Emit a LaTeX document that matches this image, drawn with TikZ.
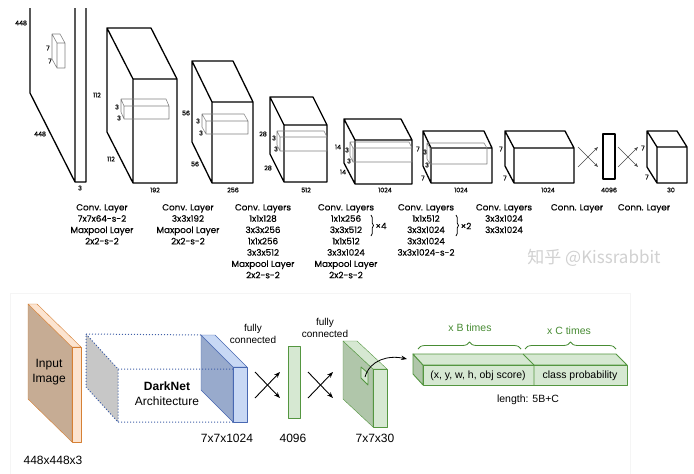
\documentclass[tikz,border=0pt]{standalone}
\usepackage{fontspec}
\setmainfont{Poppins}
\newfontfamily\capfont{Poppins}[FakeBold=0.35]
\newfontfamily\arialfont{Liberation Sans}
\newfontfamily\cjkfont{Noto Sans CJK SC}
\usepackage{tikz}
\usetikzlibrary{arrows.meta,decorations.pathreplacing}

\definecolor{inEdge}{RGB}{214,128,52}
\definecolor{inSide}{RGB}{198,172,148}
\definecolor{inLight}{RGB}{252,228,208}
\definecolor{dnEdge}{RGB}{72,104,178}
\definecolor{dnSide}{RGB}{152,170,204}
\definecolor{dnLight}{RGB}{200,216,244}
\definecolor{dotBlue}{RGB}{64,96,168}
\definecolor{fcEdge}{RGB}{84,150,64}
\definecolor{fcSide}{RGB}{176,198,170}
\definecolor{fcLight}{RGB}{214,232,210}
\definecolor{fcText}{RGB}{72,140,52}

% front face x1 y1 x2 y2, depth dx dy
\newcommand{\cuboid}[7][]{%
  \draw[#1] (#2,#3) rectangle (#4,#5)
    (#2,#3) -- (#2+#6,#3+#7) -- (#4+#6,#3+#7) -- (#4,#3)
    (#2+#6,#3+#7) -- (#2+#6,#5+#7) -- (#2,#5);}
% filled slab: x1 y1 x2 y2 dx dy side light edge
\newcommand{\slab}[9]{%
  \filldraw[draw=#9,fill=#7] (#1,#2) -- (#1+#5,#2+#6) -- (#1+#5,#4+#6) -- (#1,#4) -- cycle;
  \filldraw[draw=#9,fill=#8] (#1,#2) -- (#1+#5,#2+#6) -- (#3+#5,#2+#6) -- (#3,#2) -- cycle;
  \filldraw[draw=#9,fill=#8] (#1,#2) rectangle (#3,#4);}

\begin{document}
\begin{tikzpicture}
[x=1pt, y=-1pt, line join=round,
  blk/.style={line width=1.3pt},
  krn/.style={gray, line width=0.55pt},
  dim/.style={font=\capfont\fontsize{6.3}{7}\selectfont, inner sep=0},
  colcap/.style={font=\capfont\fontsize{8.8}{11.3}\selectfont, align=center, anchor=north, inner sep=0},
  arr/.style={black!70, line width=0.6pt, -{Stealth[length=4pt,width=3pt]}},
  bold arr/.style={black, line width=0.9pt, -{Stealth[length=6pt,width=4.5pt]}},
  lbl/.style={font=\arialfont\fontsize{12}{15}\selectfont, align=center, inner sep=0},
  small lbl/.style={font=\arialfont\fontsize{10}{12}\selectfont, align=center, inner sep=0},
  grn/.style={font=\arialfont\fontsize{10.5}{12}\selectfont, inner sep=0, text=fcText},
  dots/.style={dotBlue, dotted, line width=1pt}]
  \useasboundingbox (0,0) rectangle (694,474);
  \fill[white] (0,0) rectangle (694,474);

  % YOLO layers
  \draw[blk] (30,8) -- (30,93) -- (75,182) -- (86,182) -- (86,8) (75,8) -- (75,182);
  \cuboid[krn]{57}{43}{65}{68}{-5}{-9}
  \cuboid[blk]{133}{79}{177}{183}{-26}{-51}
  \cuboid[krn]{124}{106}{169}{119}{-3}{-7}
  \cuboid[blk]{212}{102}{253}{183}{-20}{-41}
  \cuboid[krn]{206}{121}{248}{134}{-4}{-7}
  \cuboid[blk]{284}{125}{327}{182}{-14}{-28}
  \cuboid[krn]{280}{137}{327}{151}{-3}{-6}
  \cuboid[blk]{355}{140}{412}{184}{-11}{-21}
  \cuboid[krn]{353}{148}{412}{162}{-3}{-6}
  \cuboid[blk]{431}{148}{492}{183}{-8}{-17}
  \cuboid[krn]{430}{148}{487}{164}{-3}{-5}
  \cuboid[blk]{514}{148}{574}{183}{-9}{-17}
  \draw[blk] (603,134) rectangle (615,179);
  \cuboid[blk]{657}{147}{687}{183}{-10}{-16}

  \foreach \n/\x/\y/\t in {i1/21/23/448, i2/40/134/448, i3/80/188/3, k0a/48/48/7, k0b/50/61/7,
      a1/97/95/112, a2/111/159/112, a3/155/190/192, k1a/117/107/3, k1b/119/118/3,
      b1/186/113/56, b2/195/164/56, b3/233/190/256, k2a/198/121/3, k2b/201/133/3,
      c1/263/134/28, c2/268/168/28, c3/306/190/512, k3a/274/138/3, k3b/276/149/3,
      d1/338/147/14, d2/343/172/14, d3/385/190/1024, k4a/347/150/3, k4b/349/161/3,
      e1/418/149/7, e2/423/178/7, e3/461/190/1024, k5a/425/152/3, k5b/427/165/3,
      f1/501/149/7, f2/505/178/7, f3/548/190/1024, g3/609/190/4096,
      h1/643/148/7, h2/647/177/7, h3/671/190/30}
    \node[dim] (dim-\n) at (\x,\y) {\t};

  \foreach \n/\x in {a/578, b/618} {
    \coordinate (\n-nw) at (\x,147); \coordinate (\n-sw) at (\x,167);
    \coordinate (\n-ne) at (\x+20,147); \coordinate (\n-se) at (\x+20,167);
    \draw[arr] (\n-nw) -- (\n-se);
    \draw[arr] (\n-sw) -- (\n-ne);
  }

  \node[colcap] (col1) at (102,204) {Conv. Layer\\7x7x64-s-2\\Maxpool Layer\\2x2-s-2};
  \node[colcap] (col2) at (188,204) {Conv. Layer\\3x3x192\\Maxpool Layer\\2x2-s-2};
  \node[colcap] (col3) at (263,204) {Conv. Layers\\1x1x128\\3x3x256\\1x1x256\\3x3x512\\Maxpool Layer\\2x2-s-2};
  \node[colcap] (col4) at (346,204) {Conv. Layers\\1x1x256\\3x3x512\\1x1x512\\3x3x1024\\Maxpool Layer\\2x2-s-2};
  \node[colcap] (col5) at (426,204) {Conv. Layers\\1x1x512\\3x3x1024\\3x3x1024\\3x3x1024-s-2};
  \node[colcap] (col6) at (504,204) {Conv. Layers\\3x3x1024\\3x3x1024};
  \node[colcap] (col7) at (577,204) {Conn. Layer};
  \node[colcap] (col8) at (644,204) {Conn. Layer};
  \draw[decorate, decoration={brace, amplitude=2.5pt}, line width=0.7pt] (371,215) -- (371,236);
  \node[colcap, anchor=center] (rep4) at (381,226) {×4};
  \draw[decorate, decoration={brace, amplitude=2.5pt}, line width=0.7pt] (456,215) -- (456,236);
  \node[colcap, anchor=center] (rep2) at (466,226) {×2};

  \node[text=black!18, font=\cjkfont\fontsize{17}{19}\selectfont, inner sep=0] (wm) at (594,258) {知乎 @Kissrabbit};

  % bottom panel
  \draw[black!4] (10,293) rectangle (630,480);
  \slab{72}{347}{81}{442}{-44}{-43}{inSide}{inLight}{inEdge}
  \node[lbl] (inp) at (49,372) {Input\\Image};
  \node[lbl] (inpdim) at (53,460) {448x448x3};

  \fill[black!22] (86,334) -- (118,369) -- (118,422) -- (86,387) -- cycle;
  \draw[dots] (86,334) -- (118,369) -- (118,422) -- (86,387) -- cycle;
  \slab{233}{367}{247}{422}{-32}{-32}{dnSide}{dnLight}{dnEdge}
  \draw[dots] (86,334) -- (201,335) (118,369) -- (233,369) (118,422) -- (233,422);
  \node[lbl] (dark) at (167,394) {\textbf{DarkNet}\\Architecture};
  \node[lbl] (dk) at (227,438) {7x7x1024};
  \node[small lbl] (fc1) at (253,334) {fully\\connected};

  \foreach \n/\x in {c/255, d/308} {
    \coordinate (\n-nw) at (\x,372); \coordinate (\n-sw) at (\x,398);
    \coordinate (\n-ne) at (\x+25,372); \coordinate (\n-se) at (\x+25,398);
    \draw[bold arr] (\n-nw) -- (\n-se);
    \draw[bold arr] (\n-sw) -- (\n-ne);
  }
  \filldraw[draw=fcEdge, fill=fcLight] (288,346) rectangle (300,418);
  \node[lbl] (d4096) at (293,438) {4096};
  \node[small lbl] (fc2) at (325,328) {fully\\connected};

  \slab{373}{369}{387}{427}{-30}{-28}{fcSide}{fcLight}{fcEdge}
  \filldraw[draw=fcEdge, fill=fcLight, line width=0.8pt] (361,367) -- (368,373) -- (368,385) -- (361,378) -- cycle;
  \coordinate (cell) at (365,377);
  \node[lbl] (d30) at (375,438) {7x7x30};

  % output vector
  \filldraw[draw=fcEdge, fill=fcSide, line width=0.9pt] (413,354) -- (423,365) -- (423,385) -- (413,374) -- cycle;
  \filldraw[draw=fcEdge, fill=fcLight, line width=0.9pt] (413,354) -- (616,354) -- (627,365) -- (423,365) -- cycle;
  \filldraw[draw=fcEdge, fill=fcLight, line width=0.9pt] (423,365) rectangle (627,385);
  \draw[fcEdge, line width=0.9pt] (523,354) -- (534,365) -- (534,385);
  \coordinate (vec) at (407,359);
  \draw[bold arr, line width=0.8pt] (cell) .. controls (370,360) and (388,355) .. (vec);
  \node[small lbl, font=\arialfont\fontsize{10.5}{12}\selectfont] (box) at (478,376) {(x, y, w, h, obj score)};
  \node[small lbl, font=\arialfont\fontsize{10.5}{12}\selectfont] (cls) at (580,376) {class probability};
  \draw[fcText, line width=0.8pt, decorate, decoration={brace, amplitude=7pt}] (418,349) -- (521,349);
  \draw[fcText, line width=0.8pt, decorate, decoration={brace, amplitude=7pt}] (525,349) -- (616,349);
  \node[grn] (xb) at (470,328) {x B times};
  \node[grn] (xc) at (569,331) {x C times};
  \node[small lbl, font=\arialfont\fontsize{10.5}{12}\selectfont] (len) at (528,400) {length: 5B+C};
\end{tikzpicture}
\end{document}
